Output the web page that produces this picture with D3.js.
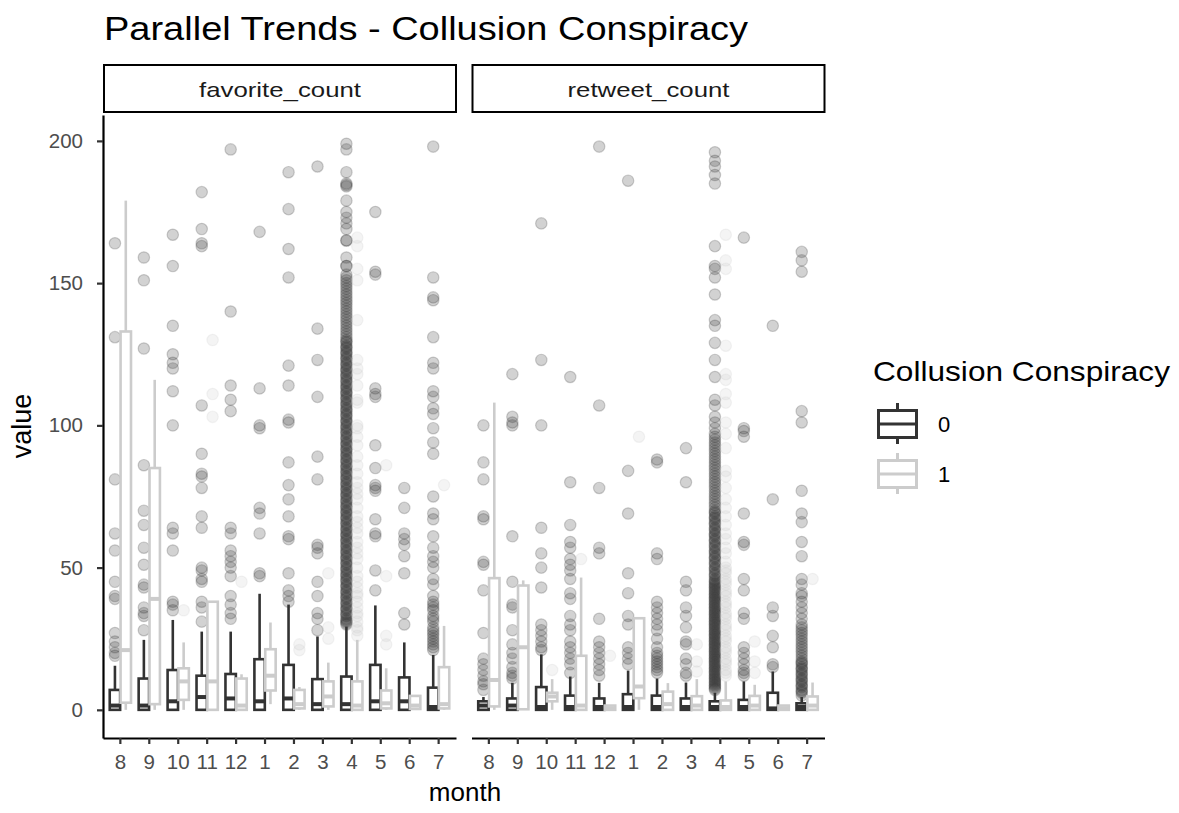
<!DOCTYPE html>
<html><head><meta charset="utf-8">
<script src="https://cdn.jsdelivr.net/npm/d3@7"></script>
<style>body{margin:0;background:#fff} text{font-family:"Liberation Sans",Arial,Helvetica,sans-serif}</style>
</head><body><svg id="c" width="1179" height="813"></svg>
<script>
const months = ["8","9","10","11","12","1","2","3","4","5","6","7"];
const panels = ["favorite_count","retweet_count"];
const groups = ["0","1"];
const yTicks = [0,50,100,150,200];
const titleText = "Parallel Trends - Collusion Conspiracy";
const legendTitle = "Collusion Conspiracy";

// [lower whisker, Q1, median, Q3, upper whisker] per month
const favStats0 = [[0,0,1.5,7,15.5],[0,0,1.5,11,24.6],[0,0,3,14,31.6],[0,0,4.5,12,27.5],[0,0,4,12.6,27.5],[0,0,3,17.8,40.8],
  [0,0,4,15.8,37],[0,0,2,10.8,25.8],[0,0,2,11.7,29.3],[0,0,3,15.8,36.7],[0,0,3,11.4,23.7],[0,0,1,7.8,19.3]];
const favStats1 = [[0,2.5,21,133,179],[0,2,39,85,116],[0,3.5,10,14.6,23.7],[0,0,10,38,38],[0,0,1.5,11,12.5],[2,6.8,12,21.3,30.7],
  [0,0.5,2,7,8],[0,1.2,4.7,10,16.6],[0,0,1.5,10,24.6],[0,0.5,2.3,6.8,14.6],[0,0.3,1.5,4.9,4.9],[0,0.5,2,15,29.5]];
const rtStats0 = [[0,0,1.5,3,4.5],[0,0,1.5,4,9.5],[0,0,1,8,19.5],[0,0,1,5,11.7],[0,0,1,4,9.5],[0,0,1,5.5,13.8],
  [0,0,1,5,11],[0,0,1,4,9.6],[0,0,1,3,6],[0,0,1,3.5,10],[0,0,0.5,6,13.5],[0,0,1,2.3,4.5]];
const rtStats1 = [[0,1.2,10.5,46.3,108],[0,0.2,22,43.7,45.5],[0,3,4.7,6,10.8],[0,0,1.5,19,46.5],[0,0,0.5,1.5,1.5],[0,4.1,8.2,32.2,32.2],
  [0,0,2,6.4,9.4],[0,0,1.5,4.8,10.8],[0,0,1,3.3,10],[0,0,1.5,4.9,8.8],[0,0,0.5,1.5,1.5],[0,0,1.5,4.7,9.6]];

// outliers per month
const favOut0 = [
  [164,131,81,62,56,45,40,39,27,24,22,20,19],
  [159,151,127,86,70,65,57,51,44,43,36,34,33,28],
  [167,156,135,125,122,120,112,100,64,62,56,38,37,35],
  [182,169,164,163,107,90,83,82,78,68,64,50,49,46,45,38,36,31],
  [197,140,114,109,105,64,62,56,54,52,50,47,40,37,34,32],
  [168,113,100,99,71,69,62,48,47],
  [189,176,162,152,121,114,102,101,87,79,74,68,61,60,48,42,40,38],
  [191,134,123,110,89,81,58,57,55,45,40,34,32,28],
  [199,197,189,185,184,184.5,179,175,173,171,169,165,165,159,156,156,153,151,149,147,145,143,141,139,137,135,133,131,129,127,125,123,121,119,117,115,113,111,109,107,105,103,101,
   152,150,148,146,144,142,140,138,136,134,132,130,128,126,124,122,120,118,116,114,112,110,108,106,104,102,
   129.5,127.5,125.5,123.5,121.5,119.5,117.5,115.5,113.5,111.5,109.5,107.5,105.5,103.5,101.5,
   100,99,98,97,96,95,94,93,92,91,90,89,88,87,86,85,84,83,82,81,80,79,78,77,76,75,74,73,72,71,70,69,68,67,66,65,64,63,62,61,60,59,58,57,56,55,54,53,52,51,50,49,48,47,46,45,44,43,42,41,40,39,38,37,36,35,34,33,32,31,30,
   99.5,97.5,95.5,93.5,91.5,89.5,87.5,85.5,83.5,81.5,79.5,77.5,75.5,73.5,71.5,69.5,67.5,65.5,63.5,61.5,59.5,57.5,55.5,53.5,51.5,49.5,47.5,45.5,43.5,41.5,39.5,37.5,35.5,33.5,31.5,30.5],
  [175,154,153,113,111,110,93,85,79,78,77,67,62,61,49,42],
  [78,71,62,60,58,54,48,34,30],
  [198,152,145,144,131,122,120,112,110,106,104,99,94,90,75,69,67,61,57,54,52,50,46,44,40,38,37,35,33,31,29,27,26,24,22,21,36,32,28,25,23]
];
const favOut1 = [
  [],[],[35],[130,111,103],[45],[],[23,21],[48,29,25],
  [166,163,155,151,137,123,120,118,114,109,108,100,99,96,93,89,86,83,80,78,76,74,71,68,66,64,62,59,57,55,53,50,47,45,43,41,40,38,36,34,33,31,29,28,26],
  [86,47,26,23],[],[79]
];
const rtOut0 = [
  [100,87,81,68,67,52,51,42,27,18,16,14,12,10,9,7],
  [118,103,101,100,61,45,37,36,28,23,20,18,15,13,12,11],
  [171,123,100,64,55,50,43,30,28,26,24,22,21],
  [117,80,65,59,57,53,51,49,46,41,39,33,30,28,24,22,20,18,16,13],
  [198,107,78,57,55,32,24,22,20,18,16,14,12],
  [186,84,69,48,41,33,30,22,20,18,16],
  [88,87,55,53,38,36,34,32,30,28,25,22,20,19,18,17,16,15,14,13],
  [92,80,45,42,36,33,29,24,23,18,16,13,12],
  [196,193,191,188,185,163,156,155,152,146,137,135,129,123,117,109,107,103,101,97,95,92,90,87,85,83,81,79,77,75,73,71,69,67,66,64,62,61,59,58,56,55,53,52,50,49,48,47,46,45,44,43,42,41,40,39,38,37,36,35,34,33,32,31,30,29,28,27,26,25,24,23,22,21,20,19,18,17,16,15,14,13,12,11,10,9,8,7,
   99,96,94,93,91,89,88,86,84,82,80,78,76,74,72,70,68,65,63,60,57,54,51,
   69.5,67.5,65.5,63.5,61.5,59.5,57.5,55.5,53.5,51.5,49.5,47.5,
   45.5,44.5,43.5,42.5,41.5,40.5,39.5,38.5,37.5,36.5,35.5,34.5,33.5,32.5,31.5,30.5,29.5,28.5,27.5,26.5,25.5,24.5,23.5,22.5,21.5,20.5,19.5,18.5,17.5,16.5,15.5,14.5,13.5,12.5,11.5,10.5,9.5,8.5,7.5],
  [166,99,98,96,69,59,58,46,42,34,32,22,20,18,16,14,13,12],
  [135,74,36,33,26,22,16,15],
  [161,158,154,105,101,77,69,66,59,54,46,44,41,40,38,36,34,32,30,29,28,27,26,25,24,23,22,21,20,19,18,17,16,15,14,13,12,11,10,9,8,7,6,5,16.5,14.5,12.5,10.5,8.5,6.5]
];
const rtOut1 = [
  [],[],[14],[53],[19],[96],[],[23,17,13.5],
  [167,158,155,128,118,116,111,108,101,97,92,84,82,78,74,71,68,65,62,60,57,55,52,50,49,48,46,45,44,42,41,40,38,37,36,34,33,32,30,29,28,26,25,24,22,21,20,18,17,16,14,13,12],
  [24,17,13],[],[46]
];

const svg = d3.select("#c");
const dark = "#333333", light = "#CCCCCC";
const colors = [dark, light];
const statsByPanel = [[favStats0, favStats1],[rtStats0, rtStats1]];
const outByPanel = [[favOut0, favOut1],[rtOut0, rtOut1]];
const panelX = [[103, 456], [471.5, 824.5]];
const yTop = 115, yBot = 738;
const y = d3.scaleLinear().domain([-9.9, 209.1]).range([yBot, yTop]);
const tickColor = "#4D4D4D";

// title
svg.append("text").attr("x", 104).attr("y", 40).attr("font-size", 33).attr("fill", "#000")
  .attr("textLength", 644).attr("lengthAdjust", "spacingAndGlyphs").text(titleText);

panels.forEach((p, pi) => {
  const x = d3.scaleBand().domain(months).range(panelX[pi]).paddingInner(0).paddingOuter(0.1);
  const step = x.step();
  const xg = d3.scaleBand().domain(groups).range([-0.375 * step, 0.375 * step]);
  const bw = 0.36 * step;
  const g = svg.append("g");

  // strip
  g.append("rect").attr("x", panelX[pi][0] + 1).attr("y", 65).attr("width", panelX[pi][1] - panelX[pi][0] - 1)
    .attr("height", 47).attr("fill", "#fff").attr("stroke", "#000").attr("stroke-width", 2);
  g.append("text").attr("x", (panelX[pi][0] + panelX[pi][1]) / 2 + 0.5).attr("y", 97).attr("text-anchor", "middle")
    .attr("font-size", 21).attr("fill", "#1A1A1A").attr("textLength", 162).attr("lengthAdjust", "spacingAndGlyphs")
    .text(p);

  months.forEach((m, mi) => {
    groups.forEach((gr, gi) => {
      const cx = x(m) + step / 2 + xg(gr) + xg.bandwidth() / 2;
      const s = statsByPanel[pi][gi][mi];
      const outs = outByPanel[pi][gi][mi];
      const col = colors[gi];
      g.append("g").selectAll("circle").data(outs).join("circle")
        .attr("cx", cx).attr("cy", d => y(d)).attr("r", 5.7)
        .attr("fill", col).attr("fill-opacity", 0.22)
        .attr("stroke", col).attr("stroke-opacity", 0.22).attr("stroke-width", 1.2);
      g.append("line").attr("x1", cx).attr("x2", cx).attr("y1", y(s[3])).attr("y2", y(s[4]))
        .attr("stroke", col).attr("stroke-width", 2.6);
      g.append("line").attr("x1", cx).attr("x2", cx).attr("y1", y(s[1])).attr("y2", y(s[0]))
        .attr("stroke", col).attr("stroke-width", 2.6);
      g.append("rect").attr("x", cx - bw / 2).attr("width", bw).attr("y", y(s[3]))
        .attr("height", Math.max(0, y(s[1]) - y(s[3]))).attr("fill", "#fff")
        .attr("stroke", col).attr("stroke-width", 2.6);
      g.append("line").attr("x1", cx - bw / 2).attr("x2", cx + bw / 2).attr("y1", y(s[2])).attr("y2", y(s[2]))
        .attr("stroke", col).attr("stroke-width", 4);
    });
  });

  // x axis
  const ax = g.append("g").attr("transform", `translate(0,${yBot})`)
    .call(d3.axisBottom(x).tickSizeInner(6).tickSizeOuter(0).tickPadding(10));
  ax.select(".domain").attr("stroke", "#000").attr("stroke-width", 2.2);
  ax.selectAll(".tick line").attr("stroke", "#333").attr("stroke-width", 2.2);
  ax.selectAll(".tick text").attr("font-size", 20.5).attr("fill", tickColor)
    .attr("font-family", "Liberation Sans, Arial, sans-serif");

  if (pi === 0) {
    const ay = g.append("g").attr("transform", `translate(${panelX[0][0]},0)`)
      .call(d3.axisLeft(y).tickValues(yTicks).tickSizeInner(6).tickSizeOuter(0).tickPadding(14));
    ay.select(".domain").attr("stroke", "#000").attr("stroke-width", 2.2);
    ay.selectAll(".tick line").attr("stroke", "#333").attr("stroke-width", 2.2);
    ay.selectAll(".tick text").attr("font-size", 20.5).attr("fill", tickColor)
      .attr("font-family", "Liberation Sans, Arial, sans-serif");
  }
});

// axis titles
svg.append("text").attr("x", 465).attr("y", 801).attr("text-anchor", "middle").attr("font-size", 26)
  .attr("fill", "#000").text("month");
svg.append("text").attr("transform", "translate(31,426) rotate(-90)").attr("text-anchor", "middle")
  .attr("font-size", 27).attr("fill", "#000").text("value");

// legend
const lg = svg.append("g");
lg.append("text").attr("x", 873).attr("y", 381).attr("font-size", 28).attr("fill", "#000")
  .attr("textLength", 297).attr("lengthAdjust", "spacingAndGlyphs").text(legendTitle);
groups.forEach((gr, gi) => {
  const cy = 424 + gi * 50;
  const col = colors[gi];
  lg.append("line").attr("x1", 897.5).attr("x2", 897.5).attr("y1", cy - 21).attr("y2", cy + 20)
    .attr("stroke", col).attr("stroke-width", 3);
  lg.append("rect").attr("x", 878.5).attr("y", cy - 13.5).attr("width", 38).attr("height", 27)
    .attr("fill", "#fff").attr("stroke", col).attr("stroke-width", 3);
  lg.append("line").attr("x1", 878.5).attr("x2", 916.5).attr("y1", cy).attr("y2", cy)
    .attr("stroke", col).attr("stroke-width", 3);
  lg.append("text").attr("x", 938).attr("y", cy + 8).attr("font-size", 22).attr("fill", "#000").text(gr);
});
</script></body></html>
